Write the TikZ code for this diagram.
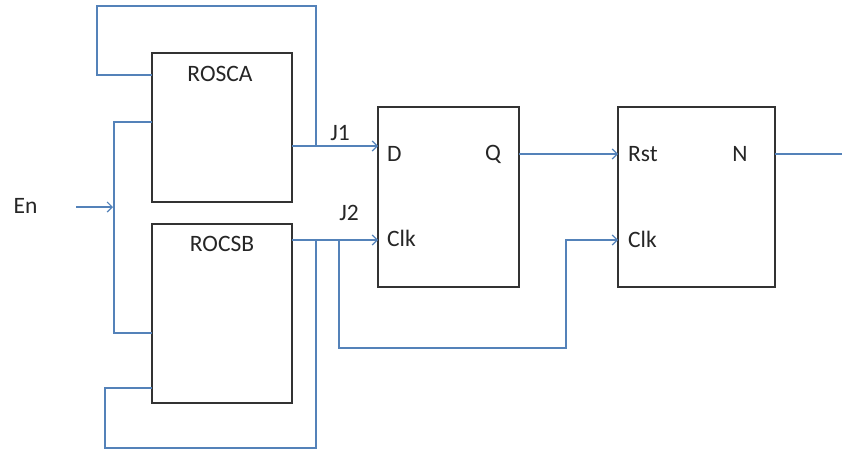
\documentclass[tikz,border=0pt]{standalone}
\usepackage{fontspec}
\setmainfont{Carlito}
\usetikzlibrary{arrows.meta}
\definecolor{wireblue}{RGB}{84,130,185}
\begin{document}
\begin{tikzpicture}[x=1pt,y=-1pt,
  blk/.style={draw=black!80, line width=1.5pt, fill=none, inner sep=0pt},
  wire/.style={draw=wireblue, line width=1.2pt},
  arr/.style={wire,-{Straight Barb[length=5pt,width=10pt,line width=1.2pt]}},
  lbl/.style={font=\fontsize{23.5}{26}\selectfont, text=black!85, inner sep=0pt}]
\fill[white] (0,0) rectangle (842,450);
\useasboundingbox (0,0) rectangle (842,450);
% blocks
\node[blk, minimum width=140pt, minimum height=149pt] (rosca) at (222,127.5) {};
\node[blk, minimum width=140pt, minimum height=179pt] (rocsb) at (222,313.5) {};
\node[blk, minimum width=141pt, minimum height=180pt] (dff) at (448.5,197) {};
\node[blk, minimum width=157pt, minimum height=180pt] (cnt) at (696.5,197) {};
% labels
\node[lbl] (lrosca) at (220,74) {ROSCA};
\node[lbl] (lrocsb) at (222,244) {ROCSB};
\node[lbl, anchor=west] (ld) at (387,154) {D};
\node[lbl] (lq) at (493,154) {Q};
\node[lbl, anchor=west] (lclk1) at (387,238) {Clk};
\node[lbl, anchor=west] (lrst) at (628,154) {Rst};
\node[lbl] (ln) at (740,154) {N};
\node[lbl, anchor=west] (lclk2) at (628,239) {Clk};
\node[lbl] (lj1) at (340,133) {J1};
\node[lbl] (lj2) at (349,213) {J2};
\node[lbl] (len) at (25.5,206) {En};
% coordinates
\coordinate (j1a) at (292,146);
\coordinate (j1b) at (378,146);
\coordinate (j2a) at (292,240);
\coordinate (j2b) at (378,240);
\coordinate (fa) at (152,75);
\coordinate (fb) at (152,388);
\coordinate (ena) at (76,207);
\coordinate (enb) at (113,207);
\coordinate (ea) at (152,122);
\coordinate (eb) at (152,333);
\coordinate (qa) at (519,154);
\coordinate (qb) at (618,154);
\coordinate (c2) at (618,240);
\coordinate (na) at (775,154);
\coordinate (nb) at (842,154);
% wires
\draw[wire] (fa) -- (97,75) -- (97,6) -- (316,6) -- (316,146);
\draw[arr] (j1a) -- (j1b);
\draw[arr] (ena) -- (enb);
\draw[wire] (ea) -- (114,122) -- (114,333) -- (eb);
\draw[arr] (j2a) -- (j2b);
\draw[wire] (316,240) -- (316,448) -- (105,448) -- (105,388) -- (fb);
\draw[arr] (339,240) -- (339,348) -- (566,348) -- (566,240) -- (c2);
\draw[arr] (qa) -- (qb);
\draw[wire] (na) -- (nb);
\end{tikzpicture}
\end{document}
